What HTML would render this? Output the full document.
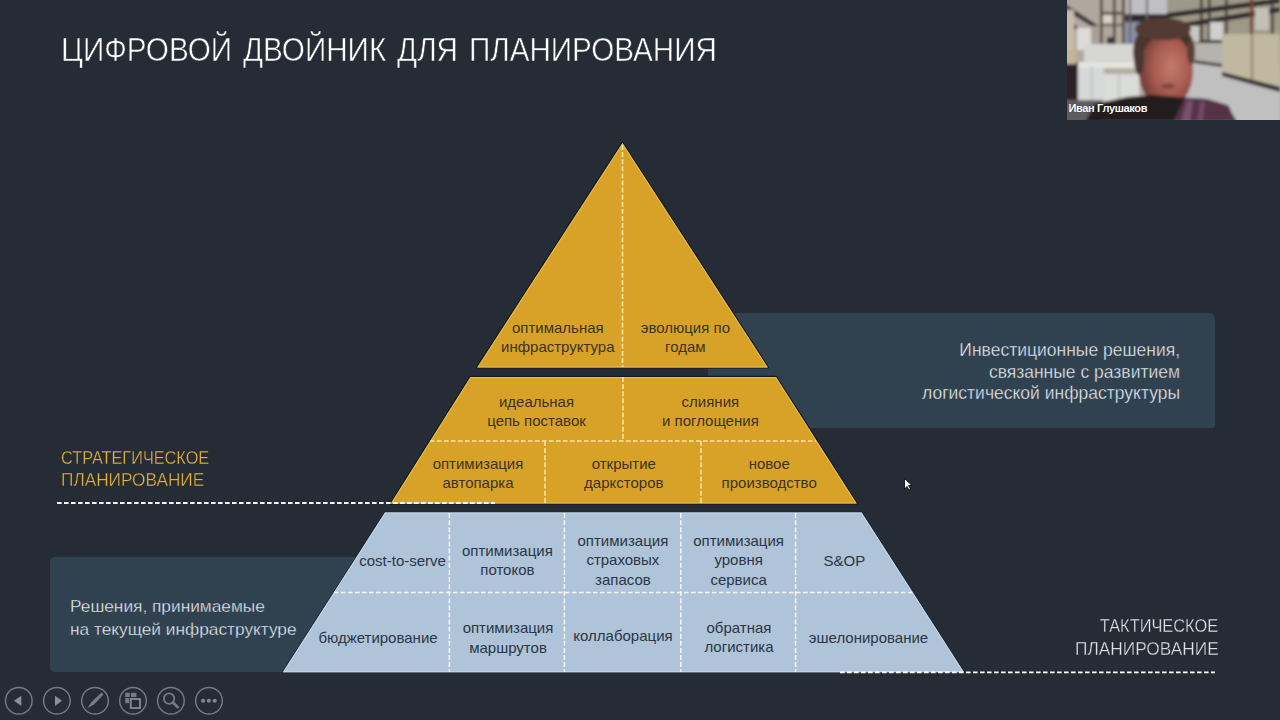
<!DOCTYPE html>
<html><head><meta charset="utf-8">
<style>
html,body{margin:0;padding:0;}
body{width:1280px;height:720px;overflow:hidden;background:#262c36;position:relative;font-family:"Liberation Sans",sans-serif;}
.abs{position:absolute;left:0;top:0;}
.t{position:absolute;white-space:nowrap;}
</style></head><body>
<div style="position:absolute;left:708px;top:313.3px;width:507.4px;height:114.7px;border-radius:6px 6px 3px 6px;background:#30414f;"></div>
<div style="position:absolute;left:49.5px;top:557px;width:450px;height:115px;border-radius:5px;background:#30414f;"></div>
<svg class="abs" width="1280" height="720" viewBox="0 0 1280 720">
<polygon points="622.5,143 767.8,367.4 477.2,367.4" fill="none" stroke="#141920" stroke-width="2.4" stroke-linejoin="round"/>
<polygon points="470.5,377 776,377 856.7,503.6 390.8,503.6" fill="none" stroke="#141920" stroke-width="2.4" stroke-linejoin="round"/>
<polygon points="385,512.5 861.6,512.5 964,672.3 282.8,672.3" fill="none" stroke="#1a2230" stroke-width="1.6"/>
<defs><clipPath id="c1"><polygon points="622.5,143 767.8,367.4 477.2,367.4"/></clipPath><clipPath id="c2"><polygon points="470.5,377 776,377 856.7,503.6 390.8,503.6"/></clipPath><clipPath id="c3"><polygon points="385,512.5 861.6,512.5 964,672.3 282.8,672.3"/></clipPath></defs>
<polygon points="622.5,143 767.8,367.4 477.2,367.4" fill="#d8a228"/>
<polygon points="470.5,377 776,377 856.7,503.6 390.8,503.6" fill="#d8a228"/>
<polygon points="385,512.5 861.6,512.5 964,672.3 282.8,672.3" fill="#afc4d8"/>
<polygon points="622.5,143 767.8,367.4 477.2,367.4" fill="none" stroke="#e8bc48" stroke-width="2" clip-path="url(#c1)"/>
<polygon points="470.5,377 776,377 856.7,503.6 390.8,503.6" fill="none" stroke="#e8bc48" stroke-width="2" clip-path="url(#c2)"/>
<polygon points="385,512.5 861.6,512.5 964,672.3 282.8,672.3" fill="none" stroke="#c4d6e6" stroke-width="2" clip-path="url(#c3)"/>
<line x1="622.5" y1="145" x2="622.5" y2="367" stroke="#f8e6a2" stroke-width="1.6" stroke-dasharray="5 2.1"/>
<line x1="623" y1="377" x2="623" y2="441" stroke="#f8e6a2" stroke-width="1.6" stroke-dasharray="5 2.1"/>
<line x1="430" y1="441" x2="816" y2="441" stroke="#f8e6a2" stroke-width="1.6" stroke-dasharray="4.6 2.4"/>
<line x1="545" y1="441" x2="545" y2="503" stroke="#f8e6a2" stroke-width="1.6" stroke-dasharray="5 2.1"/>
<line x1="701" y1="441" x2="701" y2="503" stroke="#f8e6a2" stroke-width="1.6" stroke-dasharray="5 2.1"/>
<line x1="449.4" y1="513" x2="449.4" y2="672" stroke="#f4f7fa" stroke-width="1.5" stroke-dasharray="5 2.1"/>
<line x1="564.4" y1="513" x2="564.4" y2="672" stroke="#f4f7fa" stroke-width="1.5" stroke-dasharray="5 2.1"/>
<line x1="680.8" y1="513" x2="680.8" y2="672" stroke="#f4f7fa" stroke-width="1.5" stroke-dasharray="5 2.1"/>
<line x1="795.6" y1="513" x2="795.6" y2="672" stroke="#f4f7fa" stroke-width="1.5" stroke-dasharray="5 2.1"/>
<line x1="334" y1="592.5" x2="912.5" y2="592.5" stroke="#f4f7fa" stroke-width="1.4" stroke-dasharray="4.6 2.4"/>
<line x1="57" y1="503" x2="495" y2="503" stroke="#ffffff" stroke-width="1.8" stroke-dasharray="4.6 2.4"/>
<line x1="840" y1="672.3" x2="1215" y2="672.3" stroke="#ffffff" stroke-width="1.8" stroke-dasharray="4.6 2.4"/>
</svg>
<div class="t" style="left:60.50px;top:29.77px;width:800px;font-size:33px;line-height:40px;color:#ffffff;text-align:left;transform:scaleX(0.898);transform-origin:0 0;word-spacing:3px;-webkit-text-stroke:0.55px #262c36;">ЦИФРОВОЙ ДВОЙНИК ДЛЯ ПЛАНИРОВАНИЯ</div>
<div class="t" style="left:407.80px;top:317.95px;width:300px;font-size:15px;line-height:19.3px;color:#3b3320;text-align:center;">оптимальная<br>инфраструктура</div>
<div class="t" style="left:535.40px;top:317.95px;width:300px;font-size:15px;line-height:19.3px;color:#3b3320;text-align:center;">эволюция по<br>годам</div>
<div class="t" style="left:386.50px;top:391.95px;width:300px;font-size:15px;line-height:19.3px;color:#3b3320;text-align:center;">идеальная<br>цепь поставок</div>
<div class="t" style="left:560.40px;top:391.95px;width:300px;font-size:15px;line-height:19.3px;color:#3b3320;text-align:center;">слияния<br>и поглощения</div>
<div class="t" style="left:328.00px;top:453.95px;width:300px;font-size:15px;line-height:19.3px;color:#3b3320;text-align:center;">оптимизация<br>автопарка</div>
<div class="t" style="left:473.80px;top:453.95px;width:300px;font-size:15px;line-height:19.3px;color:#3b3320;text-align:center;">открытие<br>дарксторов</div>
<div class="t" style="left:619.20px;top:453.95px;width:300px;font-size:15px;line-height:19.3px;color:#3b3320;text-align:center;">новое<br>производство</div>
<div class="t" style="left:252.60px;top:550.95px;width:300px;font-size:15px;line-height:19.3px;color:#2b3646;text-align:center;">cost-to-serve</div>
<div class="t" style="left:357.40px;top:541.15px;width:300px;font-size:15px;line-height:19.3px;color:#2b3646;text-align:center;">оптимизация<br>потоков</div>
<div class="t" style="left:472.90px;top:531.15px;width:300px;font-size:15px;line-height:19.3px;color:#2b3646;text-align:center;">оптимизация<br>страховых<br>запасов</div>
<div class="t" style="left:588.60px;top:531.15px;width:300px;font-size:15px;line-height:19.3px;color:#2b3646;text-align:center;">оптимизация<br>уровня<br>сервиса</div>
<div class="t" style="left:694.30px;top:550.85px;width:300px;font-size:15px;line-height:19.3px;color:#2b3646;text-align:center;">S&amp;OP</div>
<div class="t" style="left:228.00px;top:628.15px;width:300px;font-size:15px;line-height:19.3px;color:#2b3646;text-align:center;">бюджетирование</div>
<div class="t" style="left:358.00px;top:618.35px;width:300px;font-size:15px;line-height:19.3px;color:#2b3646;text-align:center;">оптимизация<br>маршрутов</div>
<div class="t" style="left:473.00px;top:626.15px;width:300px;font-size:15px;line-height:19.3px;color:#2b3646;text-align:center;">коллаборация</div>
<div class="t" style="left:589.00px;top:618.15px;width:300px;font-size:15px;line-height:19.3px;color:#2b3646;text-align:center;">обратная<br>логистика</div>
<div class="t" style="left:718.50px;top:628.45px;width:300px;font-size:15px;line-height:19.3px;color:#2b3646;text-align:center;">эшелонирование</div>
<div class="t" style="left:61.20px;top:447.56px;font-size:18px;line-height:21.60px;color:#e4b23e;transform:scaleX(0.905);transform-origin:0 0;-webkit-text-stroke:0.35px #262c36;">СТРАТЕГИЧЕСКОЕ</div>
<div class="t" style="left:61.20px;top:470.16px;font-size:18px;line-height:21.60px;color:#e4b23e;transform:scaleX(0.957);transform-origin:0 0;-webkit-text-stroke:0.35px #262c36;">ПЛАНИРОВАНИЕ</div>
<div class="t" style="right:61.40px;top:615.56px;font-size:18px;line-height:21.60px;color:#e0e3e8;transform:scaleX(0.91);transform-origin:100% 0;-webkit-text-stroke:0.35px #262c36;">ТАКТИЧЕСКОЕ</div>
<div class="t" style="right:61.40px;top:638.76px;font-size:18px;line-height:21.60px;color:#e0e3e8;transform:scaleX(0.96);transform-origin:100% 0;-webkit-text-stroke:0.35px #262c36;">ПЛАНИРОВАНИЕ</div>
<div class="t" style="left:70.00px;top:594.76px;width:300px;font-size:17.3px;line-height:23.1px;color:#eef1f4;text-align:left;-webkit-text-stroke:0.35px #30414f;">Решения, принимаемые<br>на текущей инфраструктуре</div>
<div class="t" style="left:880.00px;top:339.81px;width:300px;font-size:17.5px;line-height:21.85px;color:#eef1f4;text-align:right;-webkit-text-stroke:0.35px #30414f;">Инвестиционные решения,<br>связанные с развитием<br>логистической инфраструктуры</div>
<svg class="abs" width="1280" height="720">
<circle cx="18.8" cy="700.75" r="13.3" fill="none" stroke="#757b84" stroke-width="1.4"/>
<circle cx="56.9" cy="700.75" r="13.3" fill="none" stroke="#757b84" stroke-width="1.4"/>
<circle cx="95" cy="700.75" r="13.3" fill="none" stroke="#757b84" stroke-width="1.4"/>
<circle cx="133" cy="700.75" r="13.3" fill="none" stroke="#757b84" stroke-width="1.4"/>
<circle cx="170.9" cy="700.75" r="13.3" fill="none" stroke="#757b84" stroke-width="1.4"/>
<circle cx="209" cy="700.75" r="13.3" fill="none" stroke="#757b84" stroke-width="1.4"/>
<polygon points="14,700.75 21.3,695.8 21.3,706" fill="#8a9098"/>
<polygon points="62,700.75 55,695.8 55,706" fill="#8a9098"/>
<polygon points="87.2,708.2 91.5,702 101.5,692.5 103.5,694.5 94,704.5" fill="#757b84"/>
<rect x="125.2" y="692.8" width="4.6" height="4.2" fill="#757b84"/><rect x="131" y="692.8" width="5.4" height="4.2" fill="#757b84"/><rect x="125.2" y="698" width="4" height="5.2" fill="#757b84"/>
<rect x="130.8" y="699" width="9.2" height="9" fill="none" stroke="#80868e" stroke-width="1.9"/>
<circle cx="169.1" cy="698.6" r="5.2" fill="none" stroke="#757b84" stroke-width="1.8"/><line x1="173" y1="702.5" x2="177.8" y2="707.2" stroke="#757b84" stroke-width="2.6" stroke-linecap="round"/>
<circle cx="203.1" cy="700.75" r="2.1" fill="#80868e"/>
<circle cx="208.8" cy="700.75" r="2.1" fill="#80868e"/>
<circle cx="214.7" cy="700.75" r="2.1" fill="#80868e"/>
</svg>
<svg class="abs" style="left:1067px;top:0px" width="213" height="120" viewBox="0 0 213 120">
<defs><filter id="bl" x="-5%" y="-5%" width="110%" height="110%"><feGaussianBlur stdDeviation="1.5"/></filter><clipPath id="cc"><rect x="0" y="0" width="213" height="120"/></clipPath></defs>
<g clip-path="url(#cc)"><g filter="url(#bl)">
<rect x="-5" y="-5" width="225" height="130" fill="#b4ada2"/>
<rect x="-5" y="-5" width="68" height="70" fill="#b0a89e"/>
<polygon points="-5,2 32,26 32,31 -5,8" fill="#3a3234"/>
<polygon points="-5,18 10,26 10,30 -5,22" fill="#4a4040"/>
<rect x="-5" y="10" width="12" height="50" fill="#c8bca8"/>
<rect x="10" y="28" width="14" height="22" fill="#dcdcd8"/>
<rect x="24" y="26" width="8" height="22" fill="#a8a098"/>
<rect x="33" y="-5" width="2.5" height="52" fill="#4a3a34"/>
<rect x="46" y="-5" width="2.5" height="52" fill="#4a3a34"/>
<rect x="55" y="-5" width="2.5" height="52" fill="#4a3a34"/>
<rect x="34" y="12" width="22" height="2.5" fill="#4a3a34"/>
<rect x="34" y="24" width="22" height="2" fill="#5a4a40"/>
<rect x="36" y="15" width="9" height="8" fill="#d8d0c4"/>
<rect x="40" y="37" width="8" height="9" fill="#3a3838"/>
<rect x="60" y="-5" width="42" height="20" fill="#c0c0c2"/>
<rect x="58" y="14" width="50" height="8" fill="#2e2a30"/>
<rect x="58" y="22" width="18" height="28" fill="#8a90a6"/>
<rect x="62" y="-5" width="2" height="58" fill="#6a6060"/>
<rect x="79" y="-5" width="2" height="25" fill="#6a6060"/>
<rect x="17" y="44" width="50" height="18" fill="#d6d6d2"/>
<rect x="11" y="64" width="26" height="36" fill="#d4d8d6"/>
<rect x="37" y="74" width="35" height="27" fill="#dadcda"/>
<rect x="11" y="62" width="61" height="6" fill="#e4e4e0"/>
<rect x="24" y="66" width="1.5" height="34" fill="#b8bcbc"/>
<rect x="51" y="74" width="1.5" height="27" fill="#b8bcbc"/>
<rect x="-5" y="62" width="16" height="60" fill="#2a2426"/>
<rect x="-5" y="50" width="14" height="14" fill="#c4b498"/>
<rect x="-5" y="100" width="40" height="25" fill="#5e5c60"/>
<rect x="100" y="-5" width="120" height="70" fill="#9e9888"/>
<polygon points="100,13 213,-2 213,3 100,18" fill="#2a2426"/>
<polygon points="115,23 213,7 213,12 115,28" fill="#2a2426"/>
<polygon points="125,41 156,39 156,43 125,45" fill="#2a2426"/>
<rect x="133" y="-5" width="2.5" height="70" fill="#3a3232"/>
<rect x="141" y="-5" width="2.5" height="70" fill="#3a3232"/>
<rect x="158" y="-5" width="2.5" height="70" fill="#3a3232"/>
<rect x="204" y="-5" width="2.5" height="70" fill="#3a3232"/>
<rect x="183" y="-5" width="3" height="40" fill="#7a3a2a"/>
<rect x="120" y="26" width="12" height="16" fill="#c8c8c4"/>
<rect x="143" y="22" width="13" height="18" fill="#cfd0cc"/>
<rect x="188" y="8" width="14" height="22" fill="#c4c0b4"/>
<rect x="127" y="43" width="28" height="20" fill="#b4b4ac"/>
<polygon points="155,34 213,34 213,88 155,73" fill="#c0b8a0"/>
<rect x="184" y="34" width="2" height="46" fill="#8a8270"/>
<polygon points="120,62 155,66 155,74 213,89 213,125 110,125 110,62" fill="#c0c0c0"/>
<polygon points="155,72 213,87 213,92 155,76" fill="#2a2624"/>
<polygon points="127,60 155,64 155,67 127,63" fill="#3a3634"/>
<defs><radialGradient id="fg" cx="0.6" cy="0.45" r="0.6"><stop offset="0" stop-color="#c47a6e"/><stop offset="0.55" stop-color="#a85c50"/><stop offset="1" stop-color="#6e3c34"/></radialGradient></defs>
<ellipse cx="97" cy="52" rx="31" ry="33" fill="#4a342c"/>
<ellipse cx="99" cy="71" rx="27" ry="37" fill="url(#fg)"/>
<ellipse cx="96" cy="29" rx="28" ry="11" fill="#523a30"/>
<ellipse cx="72" cy="58" rx="5" ry="17" fill="#4a3430"/>
<ellipse cx="124" cy="52" rx="4" ry="12" fill="#5a4036"/>
<ellipse cx="101" cy="86" rx="7" ry="2.5" fill="#7a4440"/>
<polygon points="18,122 28,104 60,97 85,95 110,97 140,99 160,105 170,122" fill="#221a1e"/>
<polygon points="106,122 118,98 140,99 162,106 168,122" fill="#553044"/>
<polygon points="114,122 120,100 126,101 123,122" fill="#7a5070"/>
<polygon points="130,122 133,101 138,102 136,122" fill="#704a68"/>
</g></g></svg>
<div class="t" style="left:1068.5px;top:101.5px;font-size:11px;font-weight:bold;color:#fff;letter-spacing:-0.35px;text-shadow:0 0 1px rgba(0,0,0,0.6)">Иван Глушаков</div>
<svg class="abs" width="1280" height="720"><polygon points="904.5,478.5 904.5,489 907,486.5 909,490 910.5,489 908.5,485.5 912,485.5" fill="#fff" stroke="#000" stroke-width="0.8"/></svg>
</body></html>
